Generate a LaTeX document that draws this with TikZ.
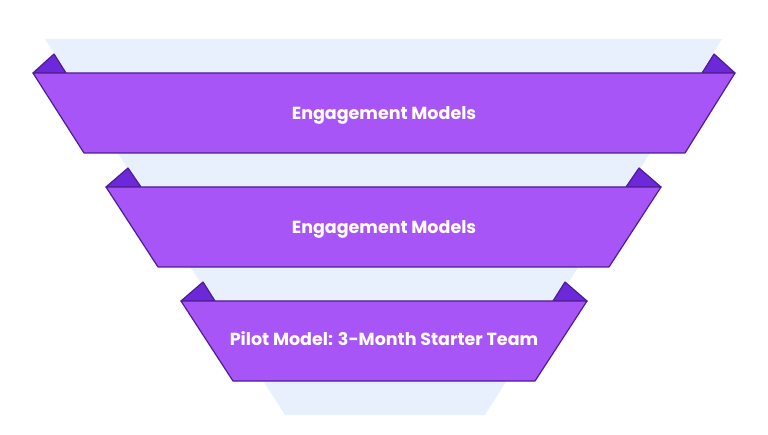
\documentclass[tikz,border=0pt]{standalone}
\usepackage{fontspec}
\setmainfont{Poppins}
\definecolor{bandfill}{HTML}{A855F7}
\definecolor{bandline}{HTML}{4C1D95}
\definecolor{foldfill}{HTML}{6D28D9}
\definecolor{funnel}{HTML}{E8F0FE}
\begin{document}
\begin{tikzpicture}[x=1pt,y=-1pt,
  band/.style={fill=bandfill,draw=bandline,line width=1.2pt,line join=round},
  fold/.style={fill=foldfill,draw=bandline,line width=1.2pt,line join=round},
  lab/.style={text=white,font=\fontsize{17.5}{20}\selectfont\bfseries}]
\useasboundingbox (0,0) rectangle (768,435);
\fill[funnel] (45,39) -- (722,39) -- (485,415) -- (285,415) -- cycle;
% band 1
\draw[fold] (33,73) -- (54,54) -- (66,73) -- cycle;
\draw[fold] (735,73) -- (714,54) -- (702,73) -- cycle;
\draw[band] (33,73) -- (735,73) -- (685,153) -- (84,153) -- cycle;
\node[lab] (b1) at (384,115) {Engagement Models};
% band 2
\draw[fold] (106,187) -- (128,168) -- (141,187) -- cycle;
\draw[fold] (661,187) -- (639,168) -- (626,187) -- cycle;
\draw[band] (106,187) -- (661,187) -- (609,267) -- (158,267) -- cycle;
\node[lab] (b2) at (384,229) {Engagement Models};
% band 3
\draw[fold] (181,301) -- (203,282) -- (215,301) -- cycle;
\draw[fold] (587,301) -- (565,282) -- (553,301) -- cycle;
\draw[band] (181,301) -- (587,301) -- (535,381) -- (233,381) -- cycle;
\node[lab] (b3) at (384,339) {Pilot Model: 3-Month Starter Team};
\end{tikzpicture}
\end{document}
